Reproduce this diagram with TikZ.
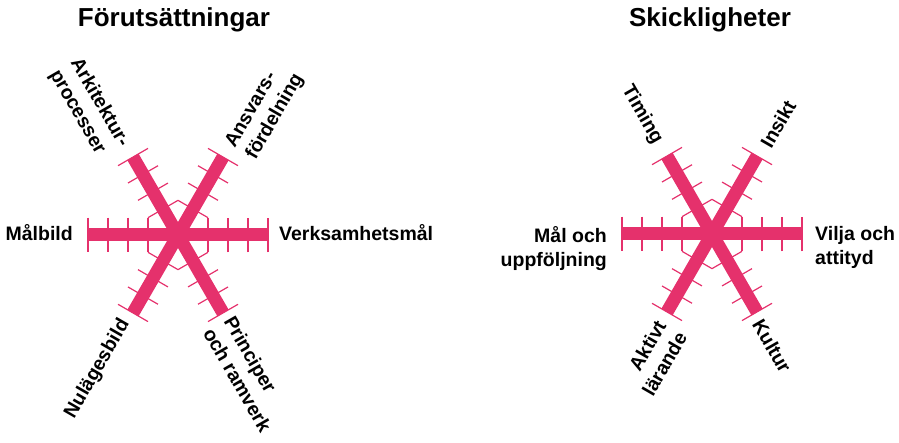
\documentclass[tikz,border=0pt]{standalone}
\usepackage{fontspec}
\setmainfont{Liberation Sans}
\usepackage{xcolor}
\usepackage{tikz}
\definecolor{starpink}{HTML}{E5316C}

\begin{document}
\begin{tikzpicture}[x=1pt,y=1pt,
    font=\bfseries\fontsize{19.5}{24}\selectfont,
    bar/.style={starpink,line width=13pt},
    tick/.style={starpink,line width=1.2pt},
    lbl/.style={inner sep=0pt},
    ttl/.style={font=\bfseries\fontsize{26}{30}\selectfont,anchor=base}]
  \useasboundingbox (0,0) rectangle (899,443);
  % left star
  \foreach \a in {0,60,...,300}
    \foreach \r in {30,50,70,90}
      \draw[tick,shift={(178,208)},rotate=\a] (\r,-17.3) -- (\r,17.3);
  \foreach \a in {0,60,120}
    \draw[bar,shift={(178,208)},rotate=\a] (-90,0) -- (90,0);
  \node[ttl] (forut) at (174,416) {Förutsättningar};
  \node[lbl,anchor=base east] (malbild) at (73,202) {Målbild};
  \node[lbl,anchor=base west] (verksam) at (279,202) {Verksamhetsmål};
  \node[lbl,rotate=-60,align=left] (arkitektur) at (89,334.5) {Arkitektur-\\processer};
  \node[lbl,rotate=60,align=left] (ansvar) at (265,332) {Ansvars-\\fördelning};
  \node[lbl,rotate=60] (nulage) at (97.5,74) {Nulägesbild};
  \node[lbl,rotate=-60,align=left] (principer) at (248,69) {Principer\\och ramverk};
  % right star
  \foreach \a in {0,60,...,300}
    \foreach \r in {30,50,70,90}
      \draw[tick,shift={(712,209)},rotate=\a] (\r,-17.3) -- (\r,17.3);
  \foreach \a in {0,60,120}
    \draw[bar,shift={(712,209)},rotate=\a] (-90,0) -- (90,0);
  \node[ttl] (skick) at (710,416) {Skickligheter};
  \node[lbl,anchor=north east,align=right] (maloch) at (607,217) {Mål och\\uppföljning};
  \node[lbl,anchor=north west,align=left] (vilja) at (815,217) {Vilja och\\attityd};
  \node[lbl,rotate=-60] (timing) at (642,328) {Timing};
  \node[lbl,rotate=60] (insikt) at (778,319) {Insikt};
  \node[lbl,rotate=60,align=right] (aktivt) at (654,85) {Aktivt\\lärande};
  \node[lbl,rotate=-60] (kultur) at (772,97) {Kultur};
\end{tikzpicture}
\end{document}
